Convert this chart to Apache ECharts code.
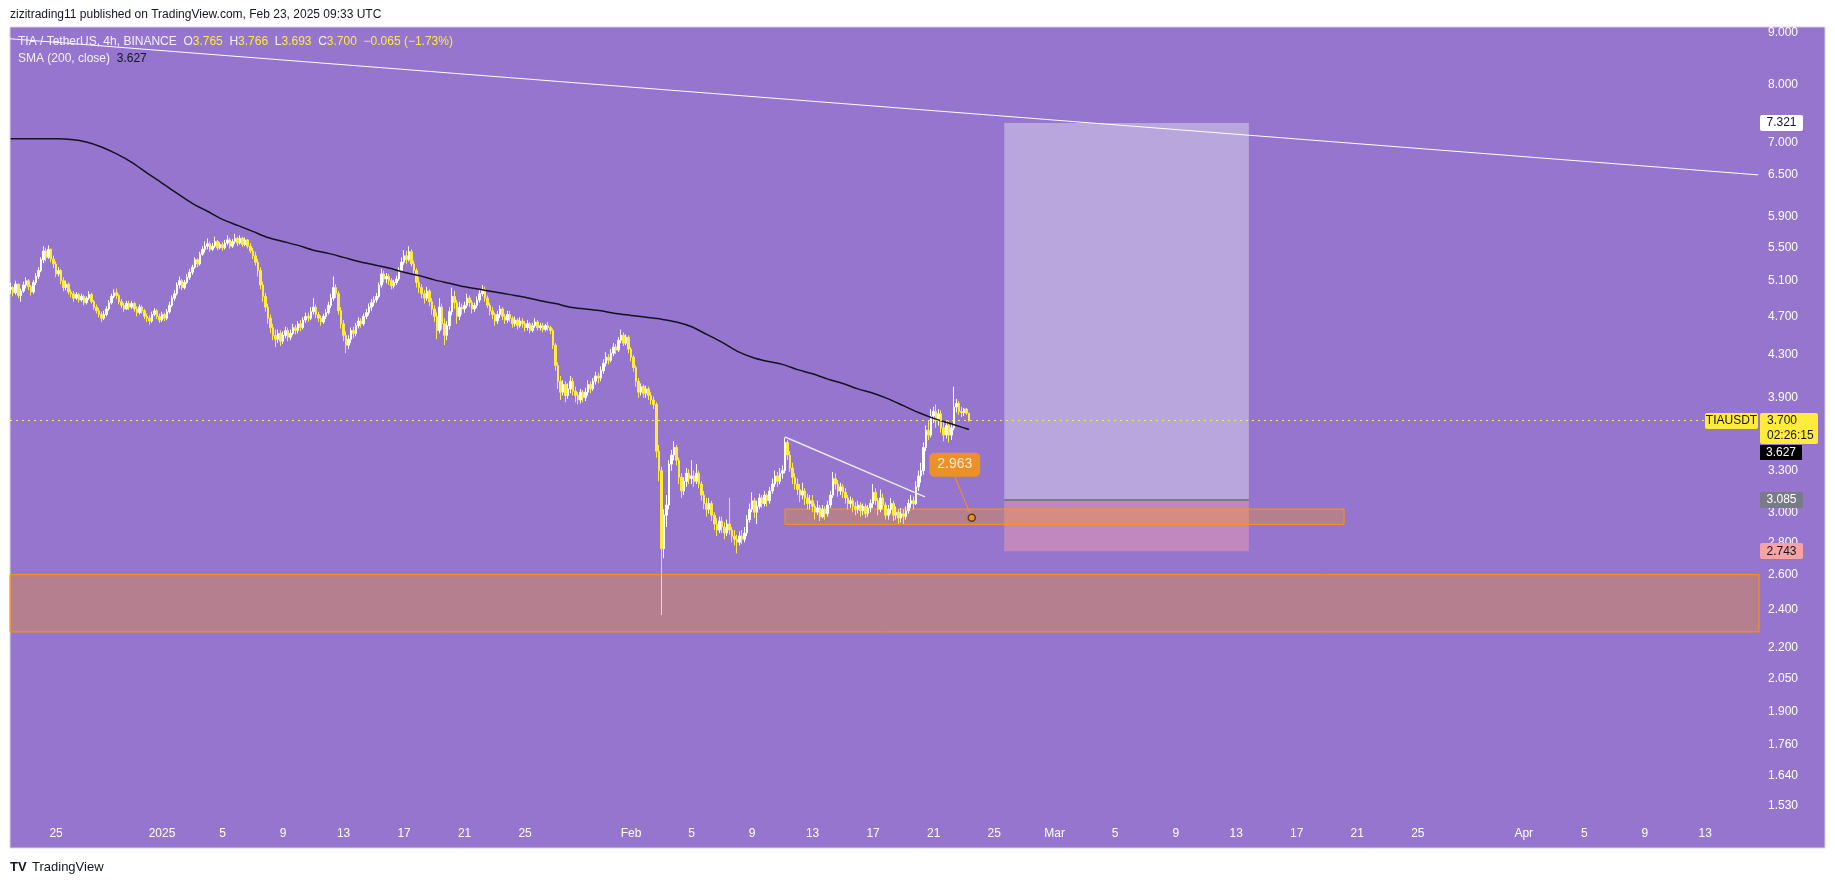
<!DOCTYPE html>
<html><head><meta charset="utf-8">
<script src="https://cdn.jsdelivr.net/npm/echarts@6/dist/echarts.min.js"></script>
<style>html,body{margin:0;padding:0;background:#fff}#c{width:1835px;height:883px}</style>
</head><body><div id="c"></div>
<script>
// ---------- DATA ----------
const candleStart = Date.UTC(2024, 11, 22, 0, 0);   // first 4h bar
const candleStepHours = 4;
const firstOpen = 5.00;
// closes, one line per day (6 bars of 4h), Dec 22 2024 .. Feb 23 2025
const closes = [
5.02,4.96,5.06,4.93,4.98,5.05, 5.10,5.03,4.97,5.08,5.15,5.22, 5.35,5.46,5.38,5.48,5.36,5.30,
5.18,5.22,5.10,5.02,5.06,4.97, 4.95,4.90,4.94,4.88,4.92,4.85, 4.90,4.94,4.86,4.80,4.76,4.72,
4.68,4.72,4.78,4.85,4.92,4.96, 4.93,4.86,4.82,4.78,4.84,4.80, 4.84,4.78,4.74,4.80,4.76,4.70,
4.68,4.65,4.72,4.76,4.70,4.66, 4.72,4.68,4.75,4.82,4.90,4.95, 5.05,5.10,5.02,5.08,5.14,5.20,
5.26,5.35,5.30,5.42,5.48,5.52, 5.55,5.48,5.52,5.58,5.50,5.54, 5.50,5.56,5.60,5.52,5.58,5.62,
5.56,5.62,5.54,5.60,5.52,5.46, 5.40,5.32,5.22,5.05,4.92,4.80, 4.68,4.58,4.50,4.46,4.52,4.44,
4.50,4.55,4.48,4.52,4.58,4.55, 4.62,4.58,4.66,4.70,4.68,4.75, 4.80,4.72,4.68,4.64,4.70,4.74,
4.82,4.90,5.02,4.95,4.76,4.62, 4.50,4.40,4.46,4.55,4.52,4.60, 4.65,4.62,4.70,4.74,4.80,4.85,
4.88,4.92,5.05,5.18,5.12,5.15, 5.10,5.04,5.08,5.12,5.22,5.32, 5.40,5.35,5.45,5.30,5.22,5.08,
5.02,4.95,4.90,4.98,4.86,4.78, 4.70,4.55,4.80,4.62,4.50,4.60, 4.75,4.92,4.85,4.70,4.80,4.78,
4.82,4.90,4.85,4.78,4.82,4.88, 4.95,5.00,4.90,4.82,4.76,4.72, 4.65,4.72,4.78,4.70,4.66,4.72,
4.68,4.62,4.66,4.60,4.65,4.62, 4.58,4.62,4.55,4.60,4.64,4.58, 4.60,4.56,4.60,4.58,4.55,4.40,
4.20,4.05,3.95,4.02,3.92,3.98, 4.05,3.96,3.92,3.88,3.95,3.90, 3.95,4.02,3.98,4.05,4.10,4.08,
4.15,4.22,4.28,4.25,4.32,4.38, 4.35,4.45,4.50,4.42,4.48,4.36, 4.28,4.18,4.05,3.95,4.00,3.94,
3.98,3.92,3.88,3.84,3.45,3.30, 2.76,2.98,3.05,3.35,3.42,3.48, 3.38,3.25,3.15,3.22,3.28,3.24,
3.26,3.22,3.28,3.20,3.12,3.06, 3.02,3.06,2.98,2.92,2.88,2.94, 2.90,2.86,2.92,2.88,2.84,2.82,
2.80,2.84,2.82,2.86,2.95,3.02, 3.08,3.00,3.04,3.10,3.06,3.12, 3.08,3.15,3.20,3.26,3.22,3.28,
3.30,3.52,3.42,3.32,3.25,3.20, 3.16,3.12,3.15,3.10,3.06,3.08, 3.04,3.00,3.03,2.97,3.02,2.99,
3.05,3.12,3.24,3.20,3.15,3.18, 3.14,3.10,3.06,3.08,3.04,3.02, 3.05,3.01,3.04,2.99,3.03,3.06,
3.14,3.08,3.02,3.10,3.05,2.98, 3.02,3.06,2.98,3.00,2.96,2.99, 2.97,3.01,3.06,3.08,3.06,3.18,
3.26,3.30,3.48,3.62,3.58,3.74, 3.78,3.70,3.76,3.64,3.58,3.66, 3.58,3.64,3.82,3.85,3.78,3.77,
3.80,3.765,3.70
];
const highs = [
5.08,5.04,5.10,5.07,5.01,5.09, 5.14,5.12,5.05,5.11,5.19,5.26, 5.38,5.52,5.50,5.53,5.49,5.40,
5.33,5.26,5.24,5.14,5.10,5.08, 5.00,4.98,4.97,4.96,4.95,4.94, 4.92,4.98,4.96,4.88,4.83,4.79,
4.75,4.76,4.81,4.88,4.95,5.00, 5.01,4.95,4.89,4.85,4.87,4.87, 4.87,4.86,4.81,4.83,4.82,4.78,
4.73,4.71,4.75,4.79,4.78,4.73, 4.75,4.74,4.78,4.86,4.93,4.99, 5.08,5.15,5.12,5.11,5.18,5.24,
5.29,5.38,5.37,5.45,5.52,5.58, 5.62,5.58,5.56,5.64,5.60,5.57, 5.57,5.60,5.66,5.63,5.61,5.68,
5.64,5.66,5.64,5.63,5.61,5.56, 5.50,5.45,5.36,5.26,5.09,4.96, 4.84,4.72,4.62,4.56,4.56,4.55,
4.54,4.59,4.58,4.56,4.62,4.61, 4.65,4.66,4.69,4.74,4.74,4.80, 4.90,4.83,4.75,4.71,4.73,4.78,
4.86,4.95,5.15,5.06,4.98,4.80, 4.66,4.54,4.50,4.58,4.59,4.63, 4.69,4.68,4.73,4.78,4.84,4.89,
4.92,4.96,5.08,5.24,5.22,5.19, 5.18,5.13,5.11,5.16,5.26,5.38, 5.47,5.46,5.52,5.48,5.34,5.25,
5.14,5.06,4.99,5.03,5.00,4.90, 4.82,4.74,4.90,4.84,4.68,4.65, 4.80,5.02,4.98,4.88,4.86,4.84,
4.86,4.95,4.93,4.88,4.85,4.92, 4.99,5.05,5.03,4.93,4.85,4.80, 4.74,4.76,4.82,4.80,4.73,4.76,
4.76,4.70,4.70,4.68,4.69,4.68, 4.65,4.66,4.64,4.63,4.68,4.66, 4.63,4.63,4.62,4.64,4.60,4.57,
4.42,4.23,4.10,4.06,4.05,4.03, 4.10,4.08,4.00,3.95,3.98,3.97, 3.99,4.06,4.05,4.08,4.14,4.13,
4.19,4.26,4.33,4.31,4.36,4.42, 4.41,4.48,4.56,4.53,4.51,4.50, 4.38,4.30,4.20,4.08,4.03,4.02,
4.01,4.00,3.95,3.91,3.86,3.50, 3.33,3.02,3.12,3.38,3.46,3.53, 3.50,3.40,3.28,3.25,3.32,3.31,
3.38,3.30,3.35,3.30,3.22,3.15, 3.10,3.10,3.08,3.00,2.96,2.97, 2.97,2.93,2.95,3.10,2.90,2.88,
2.85,2.87,2.88,2.90,2.98,3.06, 3.14,3.10,3.08,3.13,3.12,3.15, 3.13,3.18,3.24,3.30,3.29,3.32,
3.34,3.56,3.54,3.45,3.36,3.28, 3.24,3.20,3.21,3.17,3.13,3.12, 3.12,3.06,3.08,3.05,3.05,3.04,
3.08,3.15,3.29,3.28,3.23,3.21, 3.20,3.17,3.12,3.11,3.10,3.07, 3.08,3.07,3.06,3.06,3.05,3.09,
3.20,3.17,3.10,3.16,3.13,3.07, 3.05,3.10,3.08,3.04,3.02,3.03, 3.02,3.04,3.09,3.12,3.11,3.22,
3.30,3.36,3.52,3.66,3.70,3.80, 3.82,3.84,3.80,3.79,3.70,3.70, 3.70,3.68,4.00,3.89,3.87,3.82,
3.81,3.81,3.766
];
const lows = [
4.95,4.92,4.94,4.90,4.86,4.96, 5.01,4.99,4.93,4.95,5.05,5.12, 5.20,5.31,5.33,5.36,5.32,5.25,
5.14,5.15,5.06,4.98,4.99,4.94, 4.91,4.86,4.88,4.85,4.86,4.82, 4.83,4.88,4.84,4.77,4.73,4.69,
4.64,4.66,4.70,4.76,4.83,4.90, 4.89,4.83,4.79,4.75,4.77,4.77, 4.78,4.75,4.70,4.72,4.73,4.67,
4.64,4.61,4.63,4.70,4.67,4.63, 4.64,4.65,4.66,4.73,4.80,4.87, 4.93,5.01,4.99,5.00,5.06,5.11,
5.17,5.24,5.26,5.28,5.40,5.44, 5.48,5.45,5.46,5.50,5.47,5.48, 5.46,5.48,5.53,5.49,5.50,5.55,
5.52,5.54,5.51,5.52,5.49,5.43, 5.36,5.28,5.15,5.00,4.86,4.75, 4.62,4.52,4.45,4.38,4.42,4.39,
4.41,4.47,4.44,4.45,4.50,4.51, 4.52,4.54,4.56,4.63,4.64,4.66, 4.72,4.68,4.64,4.60,4.62,4.67,
4.72,4.79,4.87,4.90,4.72,4.57, 4.44,4.32,4.36,4.42,4.47,4.49, 4.57,4.58,4.60,4.67,4.71,4.76,
4.81,4.85,4.90,5.02,5.08,5.07, 5.05,5.00,5.01,5.05,5.10,5.20, 5.29,5.30,5.33,5.27,5.18,5.02,
4.96,4.90,4.84,4.87,4.81,4.72, 4.64,4.46,4.52,4.56,4.40,4.45, 4.56,4.71,4.78,4.62,4.66,4.72,
4.74,4.79,4.80,4.73,4.75,4.79, 4.85,4.92,4.86,4.79,4.71,4.67, 4.60,4.62,4.68,4.66,4.62,4.63,
4.64,4.58,4.59,4.56,4.58,4.58, 4.54,4.55,4.52,4.53,4.58,4.55, 4.55,4.53,4.54,4.55,4.51,4.36,
4.15,3.98,3.88,3.92,3.86,3.89, 3.94,3.92,3.86,3.84,3.85,3.86, 3.87,3.92,3.94,3.96,4.02,4.03,
4.05,4.12,4.19,4.21,4.23,4.29, 4.31,4.33,4.42,4.39,4.40,4.32, 4.24,4.14,4.00,3.90,3.92,3.90,
3.90,3.88,3.84,3.80,3.40,3.22, 2.37,2.70,2.90,3.02,3.30,3.38, 3.34,3.20,3.10,3.12,3.18,3.20,
3.20,3.18,3.20,3.17,3.08,3.02, 2.97,2.99,2.94,2.88,2.84,2.86, 2.86,2.82,2.84,2.85,2.80,2.78,
2.73,2.78,2.79,2.80,2.84,2.93, 3.00,2.96,2.92,3.02,3.03,3.04, 3.04,3.06,3.13,3.18,3.18,3.20,
3.24,3.28,3.38,3.29,3.20,3.16, 3.12,3.07,3.09,3.05,3.02,3.02, 3.00,2.95,2.98,2.94,2.96,2.95,
2.97,3.03,3.10,3.16,3.11,3.12, 3.10,3.06,3.02,3.03,3.00,2.98, 2.99,2.97,2.98,2.96,2.97,3.00,
3.03,3.05,2.98,3.00,3.02,2.95, 2.95,2.99,2.94,2.95,2.92,2.93, 2.92,2.95,2.99,3.03,3.02,3.05,
3.15,3.21,3.27,3.45,3.54,3.56, 3.68,3.64,3.66,3.60,3.53,3.55, 3.52,3.54,3.62,3.77,3.75,3.73,
3.74,3.75,3.693
];
// SMA(200), one value per day at 00:00 UTC from Dec 22 2024
const smaStart = Date.UTC(2024, 11, 22);
const smaDaily = [
7.06,7.06,7.06,7.06,7.05,7.01,6.93,6.82,6.69,6.53,
6.38,6.23,6.09,5.98,5.87,5.79,5.71,5.63,5.58,5.53,
5.47,5.43,5.38,5.33,5.29,5.25,5.20,5.16,5.11,5.07,
5.03,5.00,4.97,4.94,4.91,4.87,4.84,4.80,4.78,4.76,
4.73,4.71,4.69,4.67,4.64,4.59,4.51,4.43,4.34,4.28,
4.24,4.21,4.16,4.12,4.07,4.03,3.98,3.94,3.89,3.83,
3.77,3.72,3.68,3.64
];
const smaLastTime = Date.UTC(2025, 1, 23, 8);
const smaLast = 3.627;

// price-scale tick labels
const yTicks = [9,8,7,6.5,5.9,5.5,5.1,4.7,4.3,3.9,3.3,3.0,2.8,2.6,2.4,2.2,2.05,1.9,1.76,1.64,1.53];
// time-scale tick labels
const xTickDates = ['2024-12-25','2025-01-01','2025-01-05','2025-01-09','2025-01-13','2025-01-17','2025-01-21','2025-01-25',
 '2025-02-01','2025-02-05','2025-02-09','2025-02-13','2025-02-17','2025-02-21','2025-02-25',
 '2025-03-01','2025-03-05','2025-03-09','2025-03-13','2025-03-17','2025-03-21','2025-03-25',
 '2025-04-01','2025-04-05','2025-04-09','2025-04-13'];
const xTickLabels = ['25','2025','5','9','13','17','21','25','Feb','5','9','13','17','21','25',
 'Mar','5','9','13','17','21','25','Apr','5','9','13'];

// drawings (price levels / anchor times)
const lastPrice = 3.700;
const targetPrice = 7.321, entryPrice = 3.085, stopPrice = 2.743;
const positionFrom = Date.UTC(2025,1,25,16), positionTo = Date.UTC(2025,2,13,20);
const zoneTop = 3.022, zoneBottom = 2.918, zoneFrom = Date.UTC(2025,1,11,4,15), zoneTo = Date.UTC(2025,2,20,3);
const bandTop = 2.60, bandBottom = 2.28;
const trendLine = [[Date.UTC(2024,11,21,22,54), 8.88], [Date.UTC(2025,3,16,11,45), 6.50]];
const wedgeLine = [[Date.UTC(2025,1,11,4,15), 3.564], [Date.UTC(2025,1,20,10,20), 3.107]];
const notePoint = [Date.UTC(2025,1,23,12,27), 2.963];
const notePointer = [[Date.UTC(2025,1,22,9,50), 3.252], notePoint];

// ---------- CHART ----------
const X_MIN = Date.UTC(2024,11,21,22,54), X_MAX = Date.UTC(2025,3,16,13,12);
const Y_MIN = 1.4749, Y_MAX = 9.081;
const FONT = 'Liberation Sans, Arial, sans-serif';

const xTickTimes = xTickDates.map(s => Date.parse(s + 'T00:00:00Z'));
const candles = closes.map((c, i) => {
  const o = i === 0 ? firstOpen : closes[i - 1];
  const h = Math.max(highs[i], o, c), l = Math.min(lows[i], o, c);
  return [candleStart + i * candleStepHours * 3600000, o, c, l, h];
});
const sma = smaDaily.map((v, k) => [smaStart + k * 86400000, v]);
sma.push([smaLastTime, smaLast]);

const chart = echarts.init(document.getElementById('c'), null, {renderer: 'canvas'});
const orangeFill = 'rgba(255,152,0,0.30)';
const option = {
  animation: false,
  backgroundColor: '#ffffff',
  textStyle: {fontFamily: FONT},
  grid: {left: 10, top: 29, width: 1749, height: 793},
  xAxis: {
    type: 'value', min: X_MIN, max: X_MAX, scale: true,
    axisLine: {show: false}, axisTick: {show: false}, splitLine: {show: false},
    axisLabel: {
      customValues: xTickTimes, color: '#ffffff', fontSize: 12, margin: 6, hideOverlap: false,
      formatter: v => { let best = 0, bd = Infinity; xTickTimes.forEach((t, k) => { const d = Math.abs(t - v); if (d < bd) { bd = d; best = k; } }); return xTickLabels[best]; }
    }
  },
  yAxis: {
    type: 'log', logBase: 10, position: 'right', min: Y_MIN, max: Y_MAX,
    axisLine: {show: false}, axisTick: {show: false}, splitLine: {show: false},
    axisLabel: {customValues: yTicks, color: '#ffffff', fontSize: 12, margin: 9, formatter: v => Number(v).toFixed(3)}
  },
  series: [
    { // long-position box
      type: 'line', name: 'position', data: [[X_MIN, 3]], symbol: 'none', lineStyle: {opacity: 0}, z: 1, silent: true,
      markArea: {silent: true, data: [
        [{xAxis: positionFrom, yAxis: targetPrice, itemStyle: {color: '#b8a6dc'}}, {xAxis: positionTo, yAxis: entryPrice}],
        [{xAxis: positionFrom, yAxis: entryPrice, itemStyle: {color: '#c088be'}}, {xAxis: positionTo, yAxis: stopPrice}]
      ]}
    },
    { // orange zones
      type: 'line', name: 'zones', data: [[X_MIN, 3]], symbol: 'none', lineStyle: {opacity: 0}, z: 2, silent: true,
      markArea: {silent: true, data: [
        [{xAxis: zoneFrom, yAxis: zoneTop, itemStyle: {color: orangeFill, borderColor: '#ff9800', borderWidth: 1}}, {xAxis: zoneTo, yAxis: zoneBottom}],
        [{xAxis: X_MIN, yAxis: bandTop, itemStyle: {color: orangeFill, borderColor: '#ff9800', borderWidth: 1}}, {xAxis: X_MAX, yAxis: bandBottom}]
      ]},
      markLine: {silent: true, symbol: 'none', label: {show: false}, lineStyle: {color: '#787b86', width: 2, type: 'solid'},
        data: [[{coord: [positionFrom, entryPrice]}, {coord: [positionTo, entryPrice]}]]}
    },
    {
      type: 'candlestick', name: 'TIAUSDT', data: candles, encode: {x: 0, y: [1, 2, 3, 4]}, barWidth: 2, z: 3,
      itemStyle: {color: '#ffffff', color0: '#ffeb3b', borderColor: '#ffffff', borderColor0: '#ffeb3b', borderWidth: 1},
      markLine: {silent: true, symbol: 'none', label: {show: false}, lineStyle: {color: '#ffeb3b', width: 1, type: [2, 4]},
        data: [{yAxis: lastPrice}]}
    },
    {type: 'line', name: 'SMA', data: sma, symbol: 'none', smooth: 0.3, lineStyle: {color: '#15121f', width: 1.5}, z: 4, silent: true},
    {type: 'line', name: 'trend', data: trendLine, symbol: 'none', lineStyle: {color: '#ffffff', width: 1}, z: 5, silent: true},
    {type: 'line', name: 'wedge', data: wedgeLine, symbol: 'none', lineStyle: {color: '#ebe6f5', width: 1.5}, z: 5, silent: true},
    {type: 'line', name: 'pointer', data: notePointer, symbol: 'none', lineStyle: {color: '#ff9800', width: 1}, z: 6, silent: true},
    {type: 'scatter', name: 'note', data: [notePoint], symbol: 'circle', symbolSize: 7, z: 7, silent: true,
      itemStyle: {color: '#ff9800', borderColor: '#3a2a10', borderWidth: 1.5},
      label: {show: true, position: 'inside', offset: [-17, -53], formatter: '2.963', backgroundColor: '#ff9800',
        borderRadius: 5, padding: [5, 8], color: '#ffffff', fontSize: 14, fontFamily: FONT}}
  ]
};
chart.setOption(option);

const yp = v => chart.convertToPixel({yAxisIndex: 0}, v);
function tag(x, yc, w, h, bg, fg, text) {
  return [
    {type: 'rect', z: 100, shape: {x: x, y: Math.round(yc - h / 2), width: w, height: h, r: 2}, style: {fill: bg}},
    {type: 'text', z: 101, style: {x: x + w / 2, y: yc, text: text, fill: fg, font: '12px ' + FONT, align: 'center', verticalAlign: 'middle'}}
  ];
}
const yLast = yp(lastPrice);
const g = [
  {type: 'rect', z: -10, silent: true, shape: {x: 10, y: 27, width: 1815, height: 821}, style: {fill: '#9575cd', stroke: '#d8d3e6', lineWidth: 1}},
  {type: 'text', z: 50, style: {x: 10, y: 15, text: 'zizitrading11 published on TradingView.com, Feb 23, 2025 09:33 UTC', fill: '#131722', font: '12px ' + FONT, verticalAlign: 'middle'}},
  {type: 'text', z: 50, style: {x: 18, y: 42, verticalAlign: 'middle', font: '12px ' + FONT,
    text: '{w|TIA / TetherUS, 4h, BINANCE}  {w|O}{y|3.765}  {w|H}{y|3.766}  {w|L}{y|3.693}  {w|C}{y|3.700}  {y|\u22120.065 (\u22121.73%)}',
    rich: {w: {fill: '#f4f1fa', fontSize: 12, fontFamily: FONT}, y: {fill: '#ffeb3b', fontSize: 12, fontFamily: FONT}}}},
  {type: 'text', z: 50, style: {x: 18, y: 59, verticalAlign: 'middle', font: '12px ' + FONT,
    text: '{w|SMA (200, close)}  {k|3.627}',
    rich: {w: {fill: '#f4f1fa', fontSize: 12, fontFamily: FONT}, k: {fill: '#131722', fontSize: 12, fontFamily: FONT}}}},
  ...tag(1760, yp(targetPrice), 43, 16, '#ffffff', '#131722', '7.321'),
  ...tag(1760, yp(entryPrice), 43, 16, '#787b86', '#ffffff', '3.085'),
  ...tag(1760, yp(stopPrice), 43, 16, '#f7a3a3', '#131722', '2.743'),
  ...tag(1705, yLast, 53, 16, '#ffeb3b', '#131722', 'TIAUSDT'),
  {type: 'rect', z: 100, shape: {x: 1760, y: Math.round(yLast - 8), width: 58, height: 31, r: 2}, style: {fill: '#ffeb3b'}},
  {type: 'text', z: 101, style: {x: 1767, y: yLast, text: '3.700', fill: '#131722', font: '12px ' + FONT, verticalAlign: 'middle'}},
  {type: 'text', z: 101, style: {x: 1767, y: yLast + 15, text: '02:26:15', fill: '#131722', font: '12px ' + FONT, verticalAlign: 'middle'}},
  {type: 'rect', z: 100, shape: {x: 1760, y: Math.round(yLast + 24), width: 42, height: 15}, style: {fill: '#000000'}},
  {type: 'text', z: 101, style: {x: 1781, y: yLast + 31.5, text: '3.627', fill: '#ffffff', font: '12px ' + FONT, align: 'center', verticalAlign: 'middle'}},
  {type: 'text', z: 50, style: {x: 10, y: 867, text: 'TV', fill: '#131722', font: 'bold 13px ' + FONT, verticalAlign: 'middle'}},
  {type: 'text', z: 50, style: {x: 32, y: 867, text: 'TradingView', fill: '#131722', font: '13px ' + FONT, verticalAlign: 'middle'}}
];
chart.setOption({graphic: {elements: g}});
</script>
</body></html>
